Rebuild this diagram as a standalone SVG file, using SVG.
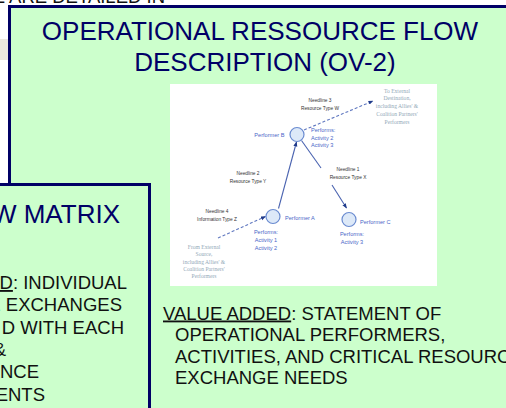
<svg xmlns="http://www.w3.org/2000/svg" width="506" height="408" viewBox="0 0 506 408">
<style>
.panel{fill:#ccffcc;stroke:#000066;stroke-width:3}
.title{font-family:"Liberation Sans",Arial,sans-serif;font-size:26px;fill:#000066}
.body{font-family:"Liberation Sans",Arial,sans-serif;font-size:18.5px;fill:#111111}
.pl{font-family:"Liberation Sans",Arial,sans-serif;font-size:5.6px;fill:#4a66c8}
.nl{font-family:"Liberation Sans",Arial,sans-serif;font-size:4.8px;fill:#333333}
.ext{font-family:"Liberation Serif","Times New Roman",serif;font-size:5.6px;fill:#93a9b8}
.node{fill:#dde9f8;stroke:#6a8bd0;stroke-width:1.2}
.solid{stroke:#4a63b0;stroke-width:1.1;fill:none}
.dash{stroke:#6078c0;stroke-width:1.1;fill:none;stroke-dasharray:3 2}
</style>
<defs>
<marker id="ah" viewBox="0 0 10 10" refX="9" refY="5" markerWidth="5" markerHeight="5" orient="auto" markerUnits="userSpaceOnUse">
<path d="M0,1 L10,5 L0,9 z" fill="#1f3a8a"/>
</marker>
</defs>
<rect width="506" height="408" fill="#ffffff"/>
<text class="body" x="165" y="3" text-anchor="end">E ARE DETAILED IN</text>
<rect x="0" y="39" width="10" height="21" fill="#ebe8df"/>
<g id="ov2-panel">
<rect class="panel" x="9.5" y="6.5" width="510" height="420"/>
<text class="title" x="260" y="40" text-anchor="middle">OPERATIONAL RESSOURCE FLOW</text>
<text class="title" x="265" y="71" text-anchor="middle">DESCRIPTION (OV-2)</text>
<rect x="170" y="84" width="267" height="202" fill="#ffffff"/>
<text class="body" x="163" y="319.5">
<tspan text-decoration="underline">VALUE ADDED</tspan>: STATEMENT OF</text>
<text class="body" x="175" y="341">OPERATIONAL PERFORMERS,</text>
<text class="body" x="175" y="362.5">ACTIVITIES, AND CRITICAL RESOURCE</text>
<text class="body" x="175" y="384">EXCHANGE NEEDS</text>
</g>
<g id="connectors">
<line class="solid" x1="278.5" y1="208.5" x2="296.5" y2="142" marker-end="url(#ah)"/>
<line class="solid" x1="301.5" y1="140.5" x2="321" y2="168"/>
<line class="solid" x1="332" y1="185" x2="346.5" y2="208" marker-end="url(#ah)"/>
<line class="dash" x1="304" y1="130" x2="373" y2="101" marker-end="url(#ah)"/>
<line class="dash" x1="218" y1="238" x2="265.5" y2="216.5" marker-end="url(#ah)"/>
<text class="nl" x="320" y="102" text-anchor="middle">Needline 3</text>
<text class="nl" x="320" y="110" text-anchor="middle">Resource Type W</text>
<text class="nl" x="248" y="174.5" text-anchor="middle">Needline 2</text>
<text class="nl" x="248" y="182.5" text-anchor="middle">Resource Type Y</text>
<text class="nl" x="348" y="171" text-anchor="middle">Needline 1</text>
<text class="nl" x="348" y="179" text-anchor="middle">Resource Type X</text>
<text class="nl" x="217" y="213" text-anchor="middle">Needline 4</text>
<text class="nl" x="217" y="221" text-anchor="middle">Information Type Z</text>
</g>
<g id="performer-b">
<circle class="node" cx="297" cy="134.5" r="7"/>
<text class="pl" x="284.5" y="136.8" text-anchor="end">Performer B</text>
<text class="pl" x="311" y="132">Performs:</text>
<text class="pl" x="311" y="139.5">Activity 2</text>
<text class="pl" x="311" y="147">Activity 3</text>
</g>
<g id="performer-a">
<circle class="node" cx="273" cy="216.5" r="7"/>
<text class="pl" x="285" y="219.5">Performer A</text>
<text class="pl" x="266" y="233.5" text-anchor="middle">Performs:</text>
<text class="pl" x="266" y="241.5" text-anchor="middle">Activity 1</text>
<text class="pl" x="266" y="249.5" text-anchor="middle">Activity 2</text>
</g>
<g id="performer-c">
<circle class="node" cx="349" cy="219.5" r="7"/>
<text class="pl" x="360" y="224">Performer C</text>
<text class="pl" x="352" y="236" text-anchor="middle">Performs:</text>
<text class="pl" x="352" y="244" text-anchor="middle">Activity 3</text>
</g>
<g id="ext-destination">
<text class="ext" x="397" y="92.5" text-anchor="middle">To External</text>
<text class="ext" x="397" y="100" text-anchor="middle">Destination,</text>
<text class="ext" x="397" y="108" text-anchor="middle">including Allies' &amp;</text>
<text class="ext" x="397" y="116" text-anchor="middle">Coalition Partners'</text>
<text class="ext" x="397" y="124" text-anchor="middle">Performers</text>
</g>
<g id="ext-source">
<text class="ext" x="204" y="249" text-anchor="middle">From External</text>
<text class="ext" x="204" y="256" text-anchor="middle">Source,</text>
<text class="ext" x="204" y="263.5" text-anchor="middle">including Allies' &amp;</text>
<text class="ext" x="204" y="270.5" text-anchor="middle">Coalition Partners'</text>
<text class="ext" x="204" y="278" text-anchor="middle">Performers</text>
</g>
<g id="ov3-panel">
<rect class="panel" x="-20" y="184.5" width="169.5" height="240"/>
<text class="title" x="120" y="223" text-anchor="end">W MATRIX</text>
<text class="body" x="127" y="289" text-anchor="end"><tspan text-decoration="underline">ED</tspan>: INDIVIDUAL</text>
<text class="body" x="122" y="311" text-anchor="end">E EXCHANGES</text>
<text class="body" x="124" y="333.5" text-anchor="end">D WITH EACH</text>
<text class="body" x="6" y="356" text-anchor="end">&amp;</text>
<text class="body" x="39" y="378" text-anchor="end">ANCE</text>
<text class="body" x="45" y="400.5" text-anchor="end">ENTS</text>
</g>
</svg>
